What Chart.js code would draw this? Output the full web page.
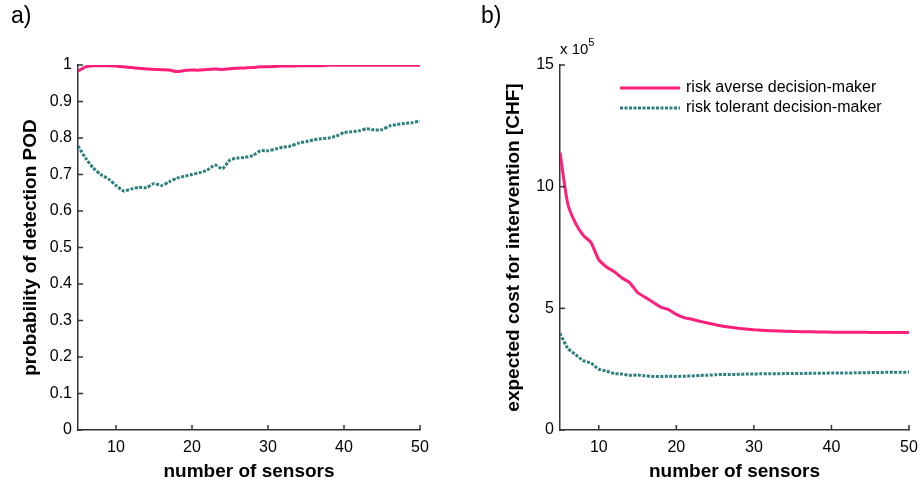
<!DOCTYPE html>
<html>
<head>
<meta charset="utf-8">
<script src="https://cdn.jsdelivr.net/npm/chart.js@4/dist/chart.umd.min.js"></script>
<style>
    body { margin: 0; background: #ffffff; }
    #wrap { position: relative; width: 921px; height: 483px; font-family: "Liberation Sans", Arial, sans-serif; }
    canvas { position: absolute; top: 0; }
    .panel { position: absolute; font-size: 23px; color: #000; }
    .exp { position: absolute; font-size: 15px; color: #000; }
    .exp sup { font-size: 11px; position: relative; top: -2px; }
</style>
</head>
<body>
<div id="wrap">
    <canvas id="podChart" width="460" height="483" style="left:0"></canvas>
    <canvas id="costChart" width="461" height="483" style="left:460px"></canvas>
    <div class="panel" style="left:11px; top:2px">a)</div>
    <div class="panel" style="left:481px; top:2px">b)</div>
    <div class="exp" style="left:560px; top:38px">x 10<sup>5</sup></div>
</div>
<script>
// Chart data
const sensors = [5, 6, 7, 8, 9, 10, 11, 12, 13, 14, 15, 16, 17, 18, 19, 20, 21, 22, 23, 24, 25, 26, 27,
    28, 29, 30, 31, 32, 33, 34, 35, 36, 37, 38, 39, 40, 41, 42, 43, 44, 45, 46, 47, 48, 49, 50];

const podAverse = [0.983, 0.995, 0.998, 0.998, 0.998, 0.997, 0.995, 0.993, 0.991, 0.989, 0.988, 0.987,
    0.986, 0.982, 0.985, 0.986, 0.986, 0.988, 0.989, 0.988, 0.990, 0.991, 0.992, 0.993, 0.995, 0.995,
    0.996, 0.997, 0.997, 0.998, 0.998, 0.998, 0.998, 0.999, 0.999, 0.999, 0.999, 0.999, 0.999, 0.999,
    0.999, 0.999, 0.999, 0.999, 0.999, 0.999];

const podTolerant = [0.778, 0.745, 0.718, 0.700, 0.688, 0.670, 0.655, 0.660, 0.665, 0.664, 0.675, 0.670,
    0.680, 0.690, 0.695, 0.700, 0.705, 0.712, 0.726, 0.716, 0.740, 0.745, 0.747, 0.752, 0.765, 0.765,
    0.770, 0.775, 0.778, 0.786, 0.790, 0.795, 0.798, 0.800, 0.805, 0.815, 0.817, 0.820, 0.825, 0.822,
    0.823, 0.833, 0.837, 0.840, 0.842, 0.847];

// Expected cost in units of 10^5 CHF
const costAverse = [11.4, 9.3, 8.5, 8.0, 7.7, 7.0, 6.7, 6.5, 6.25, 6.05, 5.65, 5.45, 5.25, 5.05, 4.95,
    4.75, 4.62, 4.55, 4.47, 4.40, 4.33, 4.26, 4.22, 4.18, 4.15, 4.12, 4.10, 4.08, 4.07, 4.06, 4.05,
    4.04, 4.04, 4.03, 4.03, 4.02, 4.02, 4.02, 4.02, 4.02, 4.01, 4.01, 4.01, 4.01, 4.01, 4.01];

const costTolerant = [3.97, 3.36, 3.10, 2.85, 2.75, 2.50, 2.42, 2.32, 2.30, 2.25, 2.26, 2.22, 2.20, 2.20,
    2.21, 2.20, 2.21, 2.22, 2.24, 2.25, 2.27, 2.28, 2.28, 2.29, 2.30, 2.30, 2.31, 2.31, 2.31, 2.32,
    2.32, 2.32, 2.33, 2.33, 2.33, 2.34, 2.34, 2.34, 2.35, 2.35, 2.36, 2.36, 2.37, 2.37, 2.37, 2.38];

const seriesLabels = ['risk averse decision-maker', 'risk tolerant decision-maker'];
const xTicks = [10, 20, 30, 40, 50];
const podTicks = [0, 0.1, 0.2, 0.3, 0.4, 0.5, 0.6, 0.7, 0.8, 0.9, 1];
const costTicks = [0, 5, 10, 15];

const PINK = '#ff1f7a';
const TEAL = '#2d7f7f';
const AXIS = '#333333';
const FONT = '"Liberation Sans", Arial, sans-serif';

// Inward tick marks, matlab style
const inwardTicks = {
    id: 'inwardTicks',
    afterDraw(chart) {
        const ctx = chart.ctx;
        const area = chart.chartArea;
        ctx.save();
        ctx.strokeStyle = AXIS;
        ctx.lineWidth = 1.5;
        chart.scales.x.ticks.forEach(t => {
            const px = chart.scales.x.getPixelForValue(t.value);
            ctx.beginPath();
            ctx.moveTo(px, area.bottom);
            ctx.lineTo(px, area.bottom - 5);
            ctx.stroke();
        });
        chart.scales.y.ticks.forEach(t => {
            const py = chart.scales.y.getPixelForValue(t.value);
            ctx.beginPath();
            ctx.moveTo(area.left, py);
            ctx.lineTo(area.left + 5, py);
            ctx.stroke();
        });
        ctx.restore();
    }
};

// Legend drawn inside the plot area
const insideLegend = {
    id: 'insideLegend',
    afterDraw(chart, args, opts) {
        if (!opts.show) return;
        const ctx = chart.ctx;
        ctx.save();
        ctx.font = '16px ' + FONT;
        ctx.textBaseline = 'middle';
        ctx.fillStyle = '#000';
        chart.data.datasets.forEach((ds, i) => {
            const y = opts.y + i * 20;
            ctx.strokeStyle = ds.borderColor;
            ctx.lineWidth = ds.borderWidth;
            ctx.setLineDash(ds.borderDash || []);
            ctx.beginPath();
            ctx.moveTo(opts.x, y);
            ctx.lineTo(opts.x + 60, y);
            ctx.stroke();
            ctx.setLineDash([]);
            ctx.fillText(ds.label, opts.x + 66, y);
        });
        ctx.restore();
    }
};

// Build the two series as x/y points
function makeDatasets(averse, tolerant) {
    const toPoints = values => values.map((v, k) => ({ x: sensors[k], y: v }));
    return [
        {
            label: seriesLabels[0],
            data: toPoints(averse),
            borderColor: PINK,
            borderWidth: 3,
            pointRadius: 0,
            tension: 0.2,
            fill: false
        },
        {
            label: seriesLabels[1],
            data: toPoints(tolerant),
            borderColor: TEAL,
            borderWidth: 3,
            borderDash: [3, 1.5],
            pointRadius: 0,
            tension: 0.2,
            fill: false
        }
    ];
}

function makeOptions(cfg) {
    return {
        responsive: false,
        animation: false,
        devicePixelRatio: 1,
        layout: { padding: { top: 65, right: cfg.padRight, bottom: 0, left: 0 } },
        plugins: {
            legend: { display: false },
            tooltip: { enabled: false },
            insideLegend: cfg.legend
        },
        scales: {
            x: {
                type: 'linear',
                min: 5,
                max: 50,
                afterBuildTicks: scale => { scale.ticks = xTicks.map(v => ({ value: v })); },
                afterFit: scale => {
                    scale.height = 53;
                    scale.paddingLeft = 0;
                    scale.paddingRight = 0;
                },
                grid: { display: false, drawTicks: false },
                border: { display: true, color: AXIS, width: 1.5 },
                ticks: { color: '#000', padding: 8, font: { family: FONT, size: 16 } },
                title: {
                    display: true,
                    text: 'number of sensors',
                    color: '#000',
                    font: { family: FONT, size: 19, weight: 'bold' },
                    padding: { top: 4, bottom: 0 }
                }
            },
            y: {
                min: cfg.yMin,
                max: cfg.yMax,
                afterBuildTicks: scale => { scale.ticks = cfg.yTicks.map(v => ({ value: v })); },
                afterFit: scale => { scale.width = cfg.yWidth; },
                grid: { display: false, drawTicks: false },
                border: { display: true, color: AXIS, width: 1.5 },
                ticks: {
                    color: '#000',
                    padding: 6,
                    font: { family: FONT, size: 16 },
                    callback: v => String(Math.round(v * 10) / 10)
                },
                title: {
                    display: true,
                    text: cfg.yTitle,
                    color: '#000',
                    font: { family: FONT, size: 19, weight: 'bold' },
                    padding: { top: cfg.yTitlePad, bottom: 0 }
                }
            }
        }
    };
}

// a) probability of detection
new Chart(document.getElementById('podChart').getContext('2d'), {
    type: 'line',
    data: { datasets: makeDatasets(podAverse, podTolerant) },
    options: makeOptions({
        padRight: 40, yMin: 0, yMax: 1, yTicks: podTicks, yWidth: 78,
        yTitle: 'probability of detection POD', yTitlePad: 19,
        legend: { show: false }
    }),
    plugins: [inwardTicks, insideLegend]
});

// b) expected cost
new Chart(document.getElementById('costChart').getContext('2d'), {
    type: 'line',
    data: { datasets: makeDatasets(costAverse, costTolerant) },
    options: makeOptions({
        padRight: 12, yMin: 0, yMax: 15, yTicks: costTicks, yWidth: 100,
        yTitle: 'expected cost for intervention [CHF]', yTitlePad: 42,
        legend: { show: true, x: 160, y: 88 }
    }),
    plugins: [inwardTicks, insideLegend]
});
</script>
</body>
</html>
